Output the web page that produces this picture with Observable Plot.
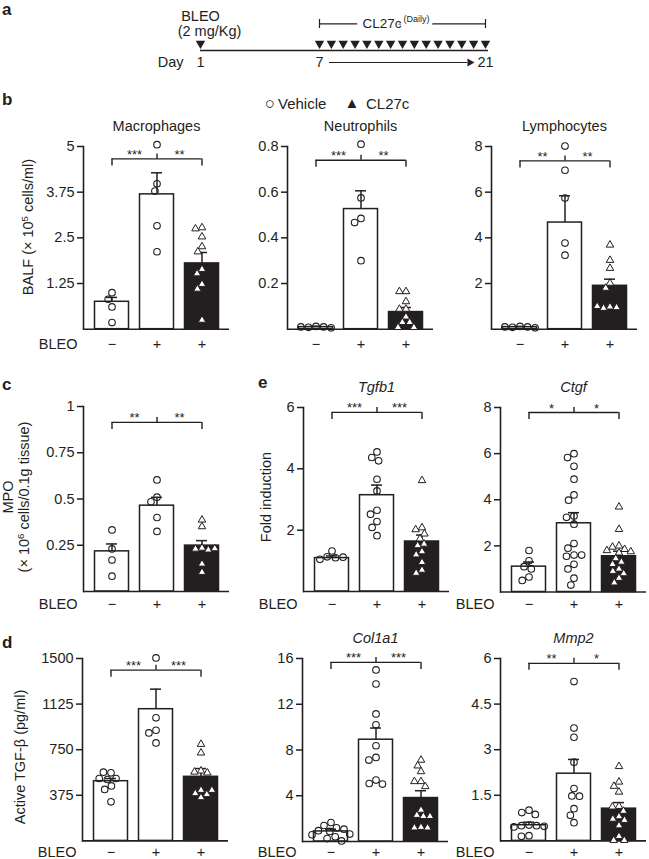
<!DOCTYPE html>
<html><head><meta charset="utf-8">
<script src="https://cdn.jsdelivr.net/npm/d3@7"></script>
<script src="https://cdn.jsdelivr.net/npm/@observablehq/plot@0.6"></script>
<style>
html,body{margin:0;padding:0;background:#fff;}
#fig{position:relative;width:649px;height:859px;overflow:hidden;font-family:"Liberation Sans",Arial,Helvetica,sans-serif;color:#231f20;background:#fff;}
.t{position:absolute;white-space:nowrap;line-height:1;}
.t sup{font-size:0.66em;line-height:0;vertical-align:0.5em;}
.layer{position:absolute;}
.layer svg{display:block;max-width:none;overflow:visible;position:absolute;left:0;top:0;}
</style></head><body><div id="fig"></div>
<script>
// ---------- data ----------
const groups = ["veh", "bleo", "cl27c"];
const bleoSigns = ["\u2212", "+", "+"];

// panel a schedule (days)
const bleoDose = [1];
const cl27cDays = [7, 8, 9, 10, 11, 12, 13, 14, 15, 16, 17, 18, 19, 20, 21];
const dayTicks = [1, 7, 21];

// b: BALF
const macroMean = [0.75, 3.69, 1.80], macroSem = [0.12, 0.59, 0.30];
const macroVeh = [1.0, 0.82, 0.61, 0.18];
const macroBleo = [5.05, 3.98, 3.78, 2.83, 2.12];
const macroCl = [2.78, 2.75, 2.53, 2.26, 2.12, 1.64, 1.52, 1.23, 1.10, 0.25];

const neutMean = [0.009, 0.526, 0.075], neutSem = [0.004, 0.08, 0.02];
const neutVeh = [0.012, 0.008, 0.01, 0.006, 0.01];
const neutBleo = [0.81, 0.575, 0.485, 0.467, 0.30];
const neutCl = [0.165, 0.165, 0.121, 0.088, 0.088, 0.054, 0.03, 0.03, 0.008, 0.008];

const lymphMean = [0.09, 4.67, 1.90], lymphSem = [0.03, 1.17, 0.29];
const lymphVeh = [0.12, 0.08, 0.1, 0.06, 0.1];
const lymphBleo = [8.02, 6.96, 5.74, 3.77, 3.24];
const lymphCl = [3.69, 3.02, 2.67, 2.02, 1.80, 0.98, 0.92, 0.95, 1.0];

// c: MPO
const mpoMean = [0.217, 0.464, 0.248], mpoSem = [0.04, 0.045, 0.027];
const mpoVeh = [0.333, 0.23, 0.17, 0.083];
const mpoBleo = [0.603, 0.51, 0.485, 0.40, 0.325];
const mpoCl = [0.387, 0.351, 0.235, 0.23, 0.225, 0.232, 0.149, 0.104];

// e: qPCR
const tgfbMean = [1.09, 3.14, 1.63], tgfbSem = [0.07, 0.33, 0.21];
const tgfbVeh = [1.32, 1.13, 1.1, 1.12, 1.05];
const tgfbBleo = [4.55, 4.37, 4.26, 3.66, 3.28, 2.65, 2.52, 2.28, 2.09, 1.82];
const tgfbCl = [3.62, 2.08, 2.02, 1.88, 1.72, 1.55, 1.5, 1.3, 1.2, 0.95, 0.7, 0.6];

const ctgfMean = [1.1, 2.98, 1.55], ctgfSem = [0.2, 0.46, 0.22];
const ctgfVeh = [1.8, 1.35, 1.1, 1.0, 0.65, 0.5];
const ctgfBleo = [6.0, 5.83, 5.45, 4.89, 4.21, 3.98, 3.30, 3.24, 2.94, 2.10, 1.90, 1.6, 1.6, 1.55, 1.2, 1.0, 0.6, 0.3];
const ctgfCl = [3.69, 2.72, 2.0, 1.95, 1.85, 1.8, 1.75, 1.7, 1.45, 1.3, 1.2, 1.0, 0.9, 0.8, 0.6, 0.4];

// d: active TGF-beta
const tgfpMean = [491, 1083, 527], tgfpSem = [22, 165, 68];
const tgfpVeh = [560, 565, 513, 513, 505, 452, 423, 321];
const tgfpBleo = [1505, 1012, 910, 888, 806];
const tgfpCl = [795, 724, 576, 567, 560, 417, 390, 357, 382, 417];

const colMean = [0.88, 8.9, 3.80], colSem = [0.2, 1.02, 0.64];
const colVeh = [1.66, 1.4, 1.2, 1.08, 0.95, 0.88, 0.65, 0.59, 0.41, 0.26, 0.05];
const colBleo = [15.0, 13.77, 11.15, 10.2, 8.37, 7.35, 7.12, 5.37, 5.07, 5.02];
const colCl = [7.12, 6.62, 6.12, 5.25, 5.25, 4.81, 2.75, 2.3, 2.2, 2.2, 1.25, 1.2, 1.2];

const mmpMean = [0.515, 2.21, 1.06], mmpSem = [0.1, 0.47, 0.2];
const mmpVeh = [1.01, 0.93, 0.87, 0.52, 0.5, 0.5, 0.48, 0.46, 0.17, 0.15];
const mmpBleo = [5.24, 3.71, 3.41, 2.59, 1.72, 1.48, 1.47, 1.06, 0.84, 0.60];
const mmpCl = [2.45, 1.94, 1.80, 1.61, 1.14, 1.12, 0.98, 0.8, 0.72, 0.68, 0.5, 0.15, 0.02, 0.02];

const titles = ["Macrophages", "Neutrophils", "Lymphocytes", "", "Tgfb1", "Ctgf", "", "Col1a1", "Mmp2"];
const italicTitle = [false, false, false, false, true, true, false, true, true];
const yTops = [5, 0.8, 8, 1, 6, 8, 1500, 16, 6];
const yTicks = [[1.25, 2.5, 3.75, 5], [0.2, 0.4, 0.6, 0.8], [2, 4, 6, 8], [0.25, 0.5, 0.75, 1],
  [2, 4, 6], [2, 4, 6, 8], [375, 750, 1125, 1500], [4, 8, 12, 16], [1.5, 3, 4.5, 6]];
const bracketLevels = [4.66, 0.74, 7.37, 0.914, 5.84, 7.78, 1404, 15.66, 5.84];
const starsLeft = ["***", "***", "**", "**", "***", "*", "***", "***", "**"];
const starsRight = ["**", "**", "**", "**", "***", "*", "***", "***", "*"];
const means = [macroMean, neutMean, lymphMean, mpoMean, tgfbMean, ctgfMean, tgfpMean, colMean, mmpMean];
const sems = [macroSem, neutSem, lymphSem, mpoSem, tgfbSem, ctgfSem, tgfpSem, colSem, mmpSem];
const points = [[macroVeh, macroBleo, macroCl], [neutVeh, neutBleo, neutCl], [lymphVeh, lymphBleo, lymphCl],
  [mpoVeh, mpoBleo, mpoCl], [tgfbVeh, tgfbBleo, tgfbCl], [ctgfVeh, ctgfBleo, ctgfCl],
  [tgfpVeh, tgfpBleo, tgfpCl], [colVeh, colBleo, colCl], [mmpVeh, mmpBleo, mmpCl]];

// ---------- layout ----------
const layout = [
  {axisX: 83, topY: 145.7, zeroY: 328.4, pad: 9.6, bleo: true},
  {axisX: 286.7, topY: 145.7, zeroY: 328.4, pad: 9.6, bleo: false},
  {axisX: 491, topY: 145.7, zeroY: 328.4, pad: 9.6, bleo: false},
  {axisX: 83, topY: 406, zeroY: 591, pad: 7, bleo: true},
  {axisX: 303, topY: 406.7, zeroY: 590.7, pad: 7, bleo: true},
  {axisX: 500, topY: 406.7, zeroY: 591.2, pad: 7, bleo: true},
  {axisX: 82, topY: 658.3, zeroY: 840.7, pad: 5.5, bleo: true},
  {axisX: 302, topY: 657.7, zeroY: 840.7, pad: 5.5, bleo: true},
  {axisX: 500, topY: 658.3, zeroY: 840.7, pad: 5.5, bleo: true}
];

const INK = "#231f20";
const FONT = '"Liberation Sans", Arial, Helvetica, sans-serif';
const fig = document.getElementById("fig");
const baseStyle = {fontFamily: FONT, fontSize: "14.5px", background: "transparent", overflow: "visible", color: INK};

function label(html, x, y, o = {}) {
  const d = document.createElement("div");
  d.className = "t";
  d.innerHTML = html;
  d.style.left = x + "px";
  d.style.top = y + "px";
  d.style.fontSize = (o.size || 14.5) + "px";
  if (o.bold) d.style.fontWeight = "bold";
  const tx = o.anchor === "start" ? "0" : o.anchor === "end" ? "-100%" : "-50%";
  d.style.transform = `translate(${tx},-50%)` + (o.rotate ? " rotate(-90deg)" : "");
  fig.appendChild(d);
}

// ---------- panel a ----------
const firstDrug = cl27cDays[0], lastDrug = cl27cDays[cl27cDays.length - 1];
const midDay = d3.mean(cl27cDays);
const schedule = Plot.plot({
  width: 649, height: 80, margin: 0,
  style: baseStyle,
  x: {type: "linear", domain: [bleoDose[0], firstDrug, lastDrug], range: [200, 319, 485], axis: null},
  marks: [
    Plot.ruleY([[bleoDose[0], lastDrug]], {x1: d => d[0], x2: d => d[1], y: null, dy: 10, insetRight: -3, stroke: INK, strokeWidth: 1.6}),
    Plot.dot([...bleoDose, ...cl27cDays], {x: d => d, symbol: "triangle", rotate: 180, r: 3.5, fill: INK, dy: 3}),
    Plot.ruleY([[firstDrug, lastDrug]], {x1: d => d[0], x2: d => d[1], y: null, dy: -16.7, stroke: INK, strokeWidth: 1.2}),
    Plot.ruleX([firstDrug, lastDrug], {x: d => d, insetTop: 19, insetBottom: 52, stroke: INK, strokeWidth: 1.2}),
    Plot.text(["CL27c"], {x: () => midDay, text: d => d, textAnchor: "end", dx: -1, dy: -17, fill: "white", stroke: "white", strokeWidth: 12, fontSize: 13.5}),
    Plot.text(["(Daily)"], {x: () => midDay, text: d => d, textAnchor: "start", dx: 1, dy: -21, fill: "white", stroke: "white", strokeWidth: 8, fontSize: 9}),
    Plot.text(["CL27c"], {x: () => midDay, text: d => d, textAnchor: "end", dx: -1, dy: -17, fill: INK, fontSize: 13.5}),
    Plot.text(["(Daily)"], {x: () => midDay, text: d => d, textAnchor: "start", dx: 1, dy: -21, fill: INK, fontSize: 9}),
    Plot.text(["BLEO"], {x: () => bleoDose[0], text: d => d, dy: -24, fill: INK}),
    Plot.text(["(2 mg/Kg)"], {x: () => bleoDose[0], text: d => d, dx: 9, dy: -9, fill: INK}),
    Plot.text(dayTicks, {x: d => d, text: d => String(d), dy: 22, fill: INK}),
    Plot.text(["Day"], {x: () => bleoDose[0], text: d => d, textAnchor: "end", dx: -17, dy: 22, fill: INK}),
    Plot.ruleY([[firstDrug, lastDrug]], {x1: d => d[0], x2: d => d[1], y: null, dy: 22, insetLeft: 10, insetRight: 18, stroke: INK, strokeWidth: 1}),
    Plot.dot([lastDrug], {x: d => d, symbol: "triangle", rotate: 90, r: 3, fill: INK, dx: -15.7, dy: 22})
  ]
});
const la = document.createElement("div");
la.className = "layer"; la.style.left = "0px"; la.style.top = "0px";
la.appendChild(schedule);
fig.appendChild(la);

// ---------- bar charts ----------
function drawChart(i) {
  const L = layout[i];
  const ML = 50, MR = 8, MT = 40, MB = 30;
  const H = MT + (L.zeroY - L.topY) + MB;
  const W = ML + 146 + MR;
  const rows = groups.map((g, k) => ({g, mean: means[i][k], sem: sems[i][k]}));
  const pts = groups.flatMap((g, k) => points[i][k].map(v => ({g, v})));
  const br = bracketLevels[i];
  const marks = [
    Plot.barY(rows, {x: "g", y: "mean", fill: d => d.g === "cl27c" ? INK : "white", stroke: INK, strokeWidth: 1.5, insetLeft: 5.5, insetRight: 5.5}),
    Plot.ruleX(rows, {x: "g", y1: "mean", y2: d => d.mean + d.sem, stroke: INK, strokeWidth: 1.5}),
    Plot.tickY(rows, {x: "g", y: d => d.mean + d.sem, insetLeft: 17, insetRight: 17, stroke: INK, strokeWidth: 1.5}),
    Plot.ruleY([0], {stroke: INK, strokeWidth: 1.6}),
    Plot.frame({anchor: "left", stroke: INK, strokeWidth: 1.6}),
    Plot.axisY({ticks: yTicks[i], tickSize: 6, tickPadding: 3, tickFormat: d => String(d), label: null, stroke: INK, strokeWidth: 1.5}),
    Plot.axisX({tickSize: 0, tickPadding: L.pad, tickFormat: g => bleoSigns[groups.indexOf(g)], label: null}),
    Plot.ruleY([br], {x1: () => groups[0], x2: () => groups[2], y: d => d, insetLeft: 22.5, insetRight: 22.5, stroke: INK, strokeWidth: 1.4}),
    Plot.ruleX([groups[0], groups[2]], {x: d => d, y1: () => br, y2: () => br, insetTop: 7, stroke: INK, strokeWidth: 1.4}),
    Plot.ruleX([groups[1]], {x: d => d, y1: () => br, y2: () => br, insetBottom: 5, stroke: INK, strokeWidth: 1.4}),
    Plot.text([starsLeft[i]], {x: () => groups[1], y: () => br, text: d => d, dx: -22.5, dy: 0, lineAnchor: "bottom", fill: INK, fontSize: 13}),
    Plot.text([starsRight[i]], {x: () => groups[1], y: () => br, text: d => d, dx: 22.5, dy: 0, lineAnchor: "bottom", fill: INK, fontSize: 13})
  ];
  if (titles[i]) marks.push(Plot.text([titles[i]], {frameAnchor: "top", text: d => d, dy: -20, lineAnchor: "middle", fontStyle: italicTitle[i] ? "italic" : "normal", fill: INK}));
  if (L.bleo) marks.push(Plot.text(["BLEO"], {frameAnchor: "bottom-left", text: d => d, textAnchor: "end", lineAnchor: "top", dx: -6, dy: L.pad, fill: INK}));
  const base = Plot.plot({
    width: W, height: H, marginLeft: ML, marginRight: MR, marginTop: MT, marginBottom: MB,
    style: baseStyle,
    x: {domain: groups, range: [ML + 5.5, ML + 140.5], padding: 0},
    y: {domain: [0, yTops[i]]},
    marks
  });
  const dots = Plot.plot({
    width: W, height: H, marginLeft: ML + 5.5, marginRight: W - (ML + 140.5), marginTop: MT, marginBottom: MB,
    style: baseStyle,
    fx: {domain: groups, padding: 0, axis: null},
    y: {domain: [0, yTops[i]], axis: null},
    marks: [
      Plot.dot(pts.filter(p => p.g !== "cl27c"), Plot.dodgeX("middle", {fx: "g", y: "v", r: 3.3, padding: 0.4, fill: "none", stroke: INK, strokeWidth: 1.1})),
      Plot.dot(pts.filter(p => p.g === "cl27c"), Plot.dodgeX("middle", {fx: "g", y: "v", r: 2.8, padding: 0.4, symbol: "triangle", fill: "white", stroke: INK, strokeWidth: 1}))
    ]
  });
  const div = document.createElement("div");
  div.className = "layer";
  div.style.left = (L.axisX - ML) + "px";
  div.style.top = (L.topY - MT) + "px";
  div.style.width = W + "px";
  div.style.height = H + "px";
  div.appendChild(base);
  div.appendChild(dots);
  fig.appendChild(div);
}
for (let i = 0; i < 9; i++) drawChart(i);

// ---------- labels ----------
label("a", 2, 9, {anchor: "start", size: 17, bold: true});
label("b", 2, 99, {anchor: "start", size: 17, bold: true});
label("c", 2, 384, {anchor: "start", size: 17, bold: true});
label("e", 258, 382, {anchor: "start", size: 17, bold: true});
label("d", 2, 642, {anchor: "start", size: 17, bold: true});

label("\u25CB", 270, 103, {size: 17});
label("Vehicle", 278, 103, {anchor: "start", size: 15});
label("\u25B2", 352, 102, {size: 15});
label("CL27c", 366, 103, {anchor: "start", size: 15});

label("BALF (\u00D7 10<sup>5</sup> cells/ml)", 27.5, 227, {rotate: true});
label("MPO", 8, 497, {rotate: true});
label("(\u00D7 10<sup>6</sup> cells/0.1g tissue)", 24, 497, {rotate: true});
label("Fold induction", 266, 497, {rotate: true});
label("Active TGF-\u03B2 (pg/ml)", 20, 757, {rotate: true});
</script></body></html>
